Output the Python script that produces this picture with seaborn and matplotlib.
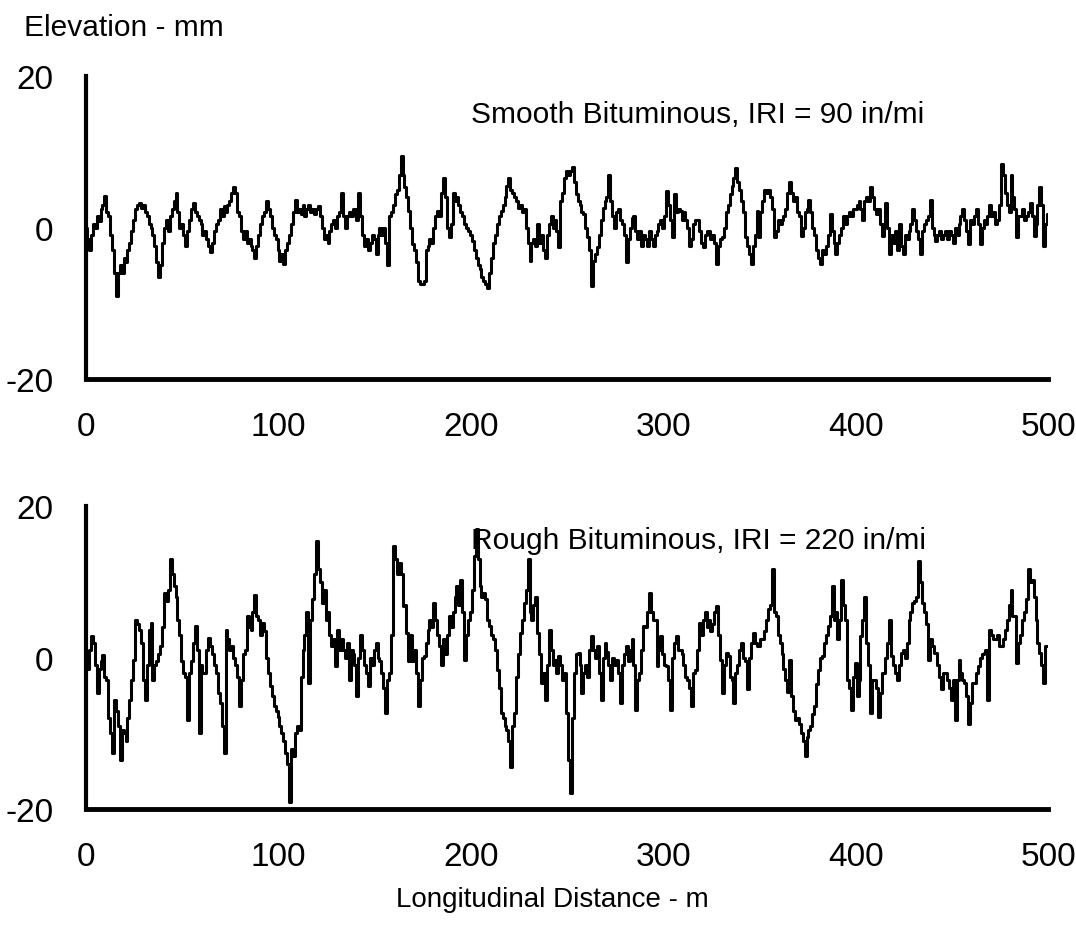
import numpy as np
import pandas as pd
import matplotlib
matplotlib.use("Agg")
import matplotlib.pyplot as plt
import seaborn as sns
from matplotlib.ticker import MultipleLocator, FixedLocator, FuncFormatter

# Elevation profiles sampled every 1 m along a 500 m section (mm)
smooth_elevation = [
    0, -1.5, -3, -1, 0.5, 0, 1.5, 0.8, 2.5, 3,
    4.2, 2, 1.5, -1, -3, -6, -9, -6, -5, -6,
    -4, -4.5, -3, -2, -0.5, 1, 2.5, 3, 3.2, 2.6,
    3, 2, 1.5, 0.5, 0, -1, -2.5, -4.5, -6.5, -5,
    -2, 0, 1, -0.5, 1.5, 2.5, 3.5, 4.6, 2, 0,
    0.5, -1, -2.5, -0.5, 1, 2.5, 3.2, 2, 1.5, 1,
    0.5, -1, -0.5, -1.5, -2.5, -3.2, -2, -0.5, 0.5, 1,
    2.5, 1.5, 2.8, 2, 3, 3.5, 4.5, 5.3, 4.5, 2,
    1.5, -0.5, -1.5, -0.5, -2, -1.5, -2.5, -3, -4, -2.5,
    -1, 0.5, 1.5, 2, 3.5, 2.5, 1.5, 0, -1, -1.5,
    -3, -4.4, -3.5, -4.8, -3, -2, -1, 0.5, 2, 3.7,
    2, 2.5, 1.8, 3, 1.5, 2.5, 3, 2, 2.5, 1.8,
    2.5, 2.8, 1.5, 0, -1.5, -1, -2, -0.5, 0.5, 1,
    0, 1.5, 2, 4.6, 1.5, 0, 1.5, 2, 1.5, 2.5,
    2.5, 1, 4.6, 1.5, -1, -2.5, -1.5, -3, -2, -1,
    -1.5, -3.5, -1, 0, -1, 0, -2, -5, 1.5, 2,
    3, 4.4, 5, 7, 9.5, 7, 5.3, 4, 2.2, 0,
    -2.2, -3, -4.5, -7, -7.5, -7.5, -7, -3, -2.5, -1.5,
    -2, 0, 1.5, 2.2, 1.5, 4.5, 6.6, 4, 0, -1.3,
    0.5, 4.5, 3.5, 4, 3, 2, 1.5, 0.5, 0, -0.5,
    -1, -1.8, -3, -4, -5, -5.5, -6.5, -7, -7.5, -8,
    -6, -4, -2, -1, 0.5, 1.5, 2.2, 3, 4, 5.5,
    6.5, 5, 4.5, 4, 3.5, 2.6, 3, 2, 2.4, 0,
    -2, -4.4, -2, -1.5, -2.5, 0.5, -2, -1, -3, -4,
    -1, 0.5, 1.5, 0, 1, -0.5, -2.6, 3.5, 4.5, 6.5,
    7.5, 7, 7.5, 8, 6, 4.4, 3.5, 3, 2, 1.8,
    0, -1.3, -3, -7.7, -4.4, -3.5, -2.6, -1, 1, 2.6,
    3.5, 4, 7, 3.5, 1.5, 0, 2, 2.5, 1, 0.5,
    -1, -4.6, -1.5, 0, 1.3, 1.5, -0.5, -1.5, -0.5, -2.5,
    -1, -1.5, -2.5, -0.5, -1.5, -2.5, -1, -0.5, 0.5, 1,
    0, 1.5, 4.8, 3, 1, -1.3, 4.4, 2, 2.5, 2.2,
    1, 2, 1, 0, -2.4, -1.5, 0.5, 1, 1, -0.5,
    -2, -2.6, -1, -0.5, -0.5, -1.5, -1, -2, -4.8, -2.5,
    -1.5, -1.3, 0, 2, 3, 4.4, 5.5, 6.5, 7.9, 6,
    5, 3.5, 2, -1.3, -2.5, -3.5, -4.8, -2.5, -1, 2.2,
    -1.3, 2, 3.5, 5, 4.5, 5, 4, 2.5, -1.3, -0.5,
    1, 0.5, 1, 1.5, 2.5, 4.5, 6, 4.5, 3.5, 4,
    2, 1.5, -1.1, 0, 2, 2.5, 3.7, 2, 0, -1,
    -3, -4, -4.8, -3, -3.5, -2.5, -1, 1.8, -0.5, -2,
    -3.5, -2, -1, 0, 1.5, 0.5, 1.5, 2, 1.5, 2.5,
    2.5, 3, 3.5, 2.5, 1, 3.5, 4, 3.5, 5.3, 4,
    2.5, 1.8, 2.5, 0.5, -1.1, 0.5, 3.3, 0, -3.5, -1,
    -2, -0.5, -3, 0.5, -2.5, -3.5, -1, -1.5, -0.5, 0.5,
    2.4, 1, -0.5, -1.5, -3.5, -0.5, 0.5, 1, 1.5, 3.7,
    0, -1, -1.8, -1, -0.5, -1.5, -1, -0.5, -1.5, -0.5,
    -1, -2, 0, -1, 0.5, 1.5, 2.4, 1, -0.5, -2.2,
    1, 0.5, 1.5, 2.4, 0.5, -2.2, 0, 1, 0.5, 1.5,
    3, 1.5, 2, 0.5, 1, 3, 8.4, 7, 4.5, 3,
    2, 7, 4, 2.5, -1.3, 1.5, 1.5, 2.4, 1, 1.5,
    2, 3.3, 1.5, -1.1, 0.5, 3, 5.3, 3, -2.4, 0.5,
    1.8,
]

rough_elevation = [
    0, -1.5, 1, 2.8, 2, -1, -4.7, -1.5, -0.5, 0.4,
    -2.5, -3, -8, -10, -12.6, -5.6, -7, -9, -13.5, -9.5,
    -10, -11, -8, -5.6, -3, -0.3, 5, 4.5, 3.7, 2,
    -3, -5.6, -1, 3.7, 4.6, -2.9, -1, -0.5, 0.5, 1.5,
    4, 8.6, 7.5, 9, 13, 11, 9.4, 8, 5, 3,
    -0.5, -2, -2.5, -8.2, -2, -0.5, 2, 4.2, 1, -10,
    -1, -2, -2, 1, 2.6, 1.5, 0.5, -1, -2, -4.7,
    -6, -9, -12.6, 3.7, 2.5, 1, 1.5, 0, -1, -2.5,
    -6.4, -3, 0.5, 1, 5.5, 4, 3.7, 6, 8.3, 5.5,
    5, 3, 4.6, 3.5, 0, -2, -3.8, -5, -6.4, -7,
    -7.8, -9, -10, -11, -12.6, -14, -19, -12, -13, -10,
    -9, -9.5, -2.5, 1, 3, 6, -3.4, 5, 7.7, 11,
    15.4, 11.7, 10, 7.2, 9, 5, 6, 3, 1.5, 2.5,
    -1.1, 3.7, 1, 2.5, 1, 0, 2, -2.9, 1, 0.5,
    -1, -5.1, 0, 3, 1, -1, -2, -3.8, 0, -1,
    1, 2, 0, -0.5, -2, -4, -7.3, -3, -2, 3,
    14.7, 13, 11, 12.5, 11, 6.8, 7, 3.3, -0.5, 3,
    -0.5, 1, -2, -6.4, -3, 0, 0.2, 2, 3.7, 5,
    4, 7.2, 5, 3, 1.5, -1, 2.5, 0.5, 3, 5.5,
    4, 6, 8, 9.4, 7, 10.3, 6, -0.3, 3, 5,
    6, 9, 13.4, 17, 13, 9.4, 8, 8.5, 7.7, 5,
    4.2, 3, 2.4, 1, -1.6, -4, -7.3, -8, -9, -9.5,
    -11, -14.4, -9, -7.3, -2.5, 0.5, 3.3, 5, 7.2, 9,
    13, 6, 5, 7, 8, 3.3, 0.5, -3.4, -2, -5.6,
    -1, 3.7, 1, -1, -0.3, -2, 0.2, -1, -3, -2,
    -7.3, -13.5, -17.9, -8, -2, 0.5, 0.6, -1, -4.7, -2,
    -1, -2.5, 1, 2.8, 1, 0, 1.5, -2, -5.6, 0,
    2, 0.8, -1, -2.9, 0, -1, -0.3, -2, -6, -1,
    0.5, 1.5, -0.5, 1, 2.4, -1, -6.9, -3, -2, 1,
    4.2, 4, 6, 8.6, 6, 5, 5, -1.1, 1, 2.8,
    0.5, -1, -1.1, -3, -6.9, 0, 2, 2.8, 1, 1,
    0.5, -1, -2.5, -3, -4, -6.4, -2, -1.6, 1, 4.6,
    3, 5, 6, 4, 5, 3.5, 4.5, 6, 6.8, 3,
    -0.3, -4.7, -1, 0.6, 0.2, -2.5, -3, -6, -2, -1,
    1, 2, 0, -0.5, -4.2, 0, 2, 3.3, 2, 1.5,
    1.5, 2.5, 2.4, 3.5, 5, 6.4, 7, 11.7, 6, 5.5,
    3, 2, 0.5, -1.5, -2.9, -4.5, -0.3, -5, -7, -8.2,
    -8, -8.7, -10, -11, -13, -10.5, -9.5, -9, -7.5, -6.4,
    -3.5, -1.6, 0, 0.2, 2, 3, 4.2, 5.5, 9.4, 5,
    6, 2.4, 5, 10.3, 7, 5, -2.9, -4, -6.9, -2.5,
    -0.7, -5.1, -3, 2.8, 5, 8, 2, -1, -7.3, -3,
    -2.9, -4, -7.8, -4.7, -2, -2, 0, 2, 5, 0.2,
    -1, -2, -2.9, -1, 0.6, 1, 0, 2, 5, 6,
    7.2, 7.5, 8, 12.8, 10, 7.2, 6, 4.5, -0.3, 2.4,
    1.5, 0.6, 0.6, -1, -2.5, -4.2, -2, -2, -3, -4,
    -5.6, -3, -8.2, -3, -0.3, -2, -3, -3.4, -5, -8.7,
    -6, -3.4, -3.4, -2, -1.1, 0, 0.5, 0.6, 1, -5.6,
    3.7, 3, 2.5, 2.4, 3, 1.5, 1.5, 2.5, 3.7, 5,
    7, 9, 5.5, 5.5, -0.7, 2, 3, 5, 6, 7.7,
    11.7, 10, 10.3, 8, 5, 2, 0.6, -1, -3.4, 1.5,
    1.5,
]

panel_titles = ["Smooth Bituminous, IRI = 90 in/mi",
                "Rough Bituminous, IRI = 220 in/mi"]
x_ticks = [0, 100, 200, 300, 400, 500]
y_ticks = [-20, -10, 0, 10, 20]
y_labelled = [-20, 0, 20]

sns.set_style("white")
plt.rcParams["font.family"] = ["Liberation Sans", "DejaVu Sans"]
plt.rcParams["text.color"] = "black"
plt.rcParams["xtick.color"] = "black"
plt.rcParams["ytick.color"] = "black"
plt.rcParams["xtick.labelcolor"] = "black"
plt.rcParams["ytick.labelcolor"] = "black"

fig = plt.figure(figsize=(10.76, 9.29), dpi=100)
ax_top = fig.add_axes([0.080, 0.591, 0.894, 0.326])
ax_bot = fig.add_axes([0.080, 0.128, 0.894, 0.326])

for ax, values, title, title_y in zip([ax_top, ax_bot],
                                      [smooth_elevation, rough_elevation],
                                      panel_titles, [15.0, 15.6]):
    df = pd.DataFrame({"distance": np.arange(len(values)),
                       "elevation": values})
    sns.lineplot(data=df, x="distance", y="elevation", ax=ax,
                 color="black", linewidth=2.2, drawstyle="steps-mid",
                 estimator=None, sort=False)
    ax.set_xlim(0, 500)
    ax.set_ylim(-20, 20)
    ax.set_xlabel("")
    ax.set_ylabel("")
    for side in ["top", "right"]:
        ax.spines[side].set_visible(False)
    ax.spines["left"].set_linewidth(3)
    ax.spines["bottom"].set_linewidth(3.5)
    ax.spines["left"].set_color("black")
    ax.spines["bottom"].set_color("black")
    ax.xaxis.set_major_locator(FixedLocator(x_ticks))
    ax.xaxis.set_minor_locator(MultipleLocator(20))
    ax.yaxis.set_major_locator(FixedLocator(y_ticks))
    ax.yaxis.set_major_formatter(
        FuncFormatter(lambda v, p: f"{int(v)}" if int(v) in y_labelled else ""))
    ax.tick_params(axis="x", which="major", direction="inout", length=10,
                   width=2.5, labelsize=24, pad=18, color="black",
                   labelcolor="black")
    ax.tick_params(axis="x", which="minor", direction="out", length=5,
                   width=2, color="black")
    ax.tick_params(axis="y", which="major", direction="inout", length=8,
                   width=2, labelsize=24, pad=19.5, color="black",
                   labelcolor="black")
    ax.text(200, title_y, title, fontsize=21.5, ha="left", va="center",
            color="black")

fig.text(0.022, 0.970, "Elevation - mm", fontsize=21.5, ha="left",
         va="center", color="black")
fig.text(0.513, 0.031, "Longitudinal Distance - m", fontsize=20,
         ha="center", va="center", color="black")

fig.savefig("out.png", dpi=100)
